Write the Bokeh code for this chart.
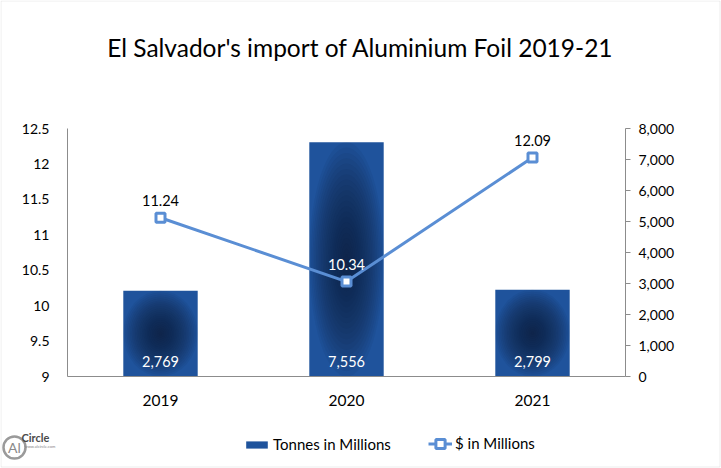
from bokeh.plotting import figure
from bokeh.models import (Range1d, LinearAxis, FixedTicker, NumeralTickFormatter,
                          ColumnDataSource, LabelSet, Label, Legend, LegendItem,
                          BoxAnnotation)
from bokeh.core.properties import value
from bokeh.embed import file_html
from bokeh.resources import INLINE

# Data
years = ["2019", "2020", "2021"]
tonnes = [2769, 7556, 2799]
tonnes_labels = ["2,769", "7,556", "2,799"]
usd_millions = [11.24, 10.34, 12.09]
usd_labels = ["11.24", "10.34", "12.09"]
left_ticks = [9, 9.5, 10, 10.5, 11, 11.5, 12, 12.5]
left_tick_labels = ["9", "9.5", "10", "10.5", "11", "11.5", "12", "12.5"]
right_ticks = [0, 1000, 2000, 3000, 4000, 5000, 6000, 7000, 8000]

FONT = "Lato"
BAR_EDGE = "#1f539c"
BAR_CORE = "#0b1d3d"
LINE_BLUE = "#5a8ed4"
AXIS_GRAY = "#8c8c8c"

W, H = 721, 468
# plot area inside the canvas (pixels from the top-left corner)
AREA_L, AREA_R, AREA_T, AREA_B = 67, 625, 128, 376

xs = list(range(len(years)))
x_lo, x_hi = -0.5, len(years) - 0.5
px_per_x = (AREA_R - AREA_L) / (x_hi - x_lo)
y_lo, y_hi = left_ticks[0], left_ticks[-1]
t_lo, t_hi = right_ticks[0], right_ticks[-1]
px_per_y = (AREA_B - AREA_T) / (y_hi - y_lo)
px_per_t = (AREA_B - AREA_T) / (t_hi - t_lo)


def canvas_to_data(px, py):
    """Canvas pixel (from top-left) to the primary x/y data space."""
    return x_lo + (px - AREA_L) / px_per_x, y_lo + (AREA_B - py) / px_per_y


p = figure(width=W, height=H, output_backend="svg", toolbar_location=None,
           x_range=Range1d(x_lo - AREA_L / px_per_x, x_hi + (W - AREA_R) / px_per_x),
           y_range=Range1d(y_lo - (H - AREA_B) / px_per_y, y_hi + AREA_T / px_per_y),
           x_axis_location=None, y_axis_location=None,
           min_border=0, min_border_left=0, min_border_right=0,
           min_border_top=0, min_border_bottom=0)
p.extra_y_ranges = {"t": Range1d(t_lo - (H - AREA_B) / px_per_t,
                                 t_hi + AREA_T / px_per_t)}
p.title.visible = False
p.outline_line_color = None
p.xgrid.grid_line_color = None
p.ygrid.grid_line_color = None
p.background_fill_color = "white"
p.border_fill_color = "white"

# Left axis ($ in millions)
ya = LinearAxis(ticker=FixedTicker(ticks=left_ticks), fixed_location=x_lo,
                bounds=(y_lo, y_hi))
ya.major_label_overrides = {t: s for t, s in zip(left_ticks, left_tick_labels)}
ya.major_tick_line_color = None
ya.minor_tick_line_color = None
ya.axis_line_color = AXIS_GRAY
ya.major_label_text_font = FONT
ya.major_label_text_font_size = "14px"
ya.major_label_text_color = "black"
ya.major_label_standoff = 12
p.add_layout(ya, "left")

# Right axis (tonnes)
ra = LinearAxis(y_range_name="t", ticker=FixedTicker(ticks=right_ticks),
                formatter=NumeralTickFormatter(format="0,0"),
                fixed_location=x_hi, bounds=(t_lo, t_hi))
ra.major_tick_in = 0
ra.major_tick_out = 5
ra.major_tick_line_color = AXIS_GRAY
ra.minor_tick_line_color = None
ra.axis_line_color = AXIS_GRAY
ra.major_label_text_font = FONT
ra.major_label_text_font_size = "14px"
ra.major_label_text_color = "black"
ra.major_label_standoff = 8
p.add_layout(ra, "right")

# Bottom axis (years)
xa = LinearAxis(ticker=FixedTicker(ticks=xs), fixed_location=y_lo,
                bounds=(x_lo, x_hi))
xa.major_label_overrides = {i: y for i, y in zip(xs, years)}
xa.major_tick_line_color = None
xa.minor_tick_line_color = None
xa.axis_line_color = AXIS_GRAY
xa.major_label_text_font = FONT
xa.major_label_text_font_size = "15.5px"
xa.major_label_text_color = "black"
xa.major_label_standoff = 12
p.add_layout(xa, "below")

# Bars with a radial shading towards the centre
bars = p.vbar(x=xs, top=tonnes, bottom=0, width=0.4, y_range_name="t",
              fill_color=BAR_EDGE, line_color=None)
n_layers = 22
mid = [t / 2 for t in tonnes]
for i in range(n_layers):
    k = 1 - i / n_layers
    p.ellipse(x=xs, y=mid, width=0.4 * k, height=[t * k for t in tonnes],
              y_range_name="t", fill_color=BAR_CORE, fill_alpha=0.065,
              line_color=None)

# Line series
ln = p.line(xs, usd_millions, line_color=LINE_BLUE, line_width=3)
mk = p.scatter(xs, usd_millions, marker="square", size=9, fill_color="white",
               line_color=LINE_BLUE, line_width=3)

# Data labels
bar_src = ColumnDataSource(dict(x=xs, y=[0] * len(xs), text=tonnes_labels))
p.add_layout(LabelSet(x="x", y="y", text="text", source=bar_src, y_range_name="t",
                      text_align="center", text_baseline="middle", y_offset=15,
                      text_color="white", text_font=value(FONT),
                      text_font_size="14.5px"))
line_src = ColumnDataSource(dict(x=xs, y=usd_millions, text=usd_labels,
                                 color=["black", "white", "black"]))
p.add_layout(LabelSet(x="x", y="y", text="text", source=line_src,
                      text_align="center", text_baseline="middle", y_offset=17,
                      text_color="color", text_font=value(FONT),
                      text_font_size="14.5px"))

# Title
p.add_layout(Label(x=360, y=H - 47, x_units="screen", y_units="screen",
                   text="El Salvador's import of Aluminium Foil 2019-21",
                   text_align="center", text_baseline="middle",
                   text_font=FONT, text_font_size="24.5px", text_color="black"))

# Legend under the plot area: one entry per series
legend_style = dict(orientation="horizontal", label_standoff=3, padding=0, margin=0,
                    border_line_color=None, background_fill_alpha=0,
                    label_text_font=FONT, label_text_font_size="15px",
                    label_text_color="black")
p.add_layout(Legend(items=[LegendItem(label="Tonnes in Millions", renderers=[bars])],
                    location=(243, H - 453), glyph_width=27, glyph_height=9,
                    **legend_style), "center")
p.add_layout(Legend(items=[LegendItem(label="$ in Millions", renderers=[ln, mk])],
                    location=(428, H - 454.5), glyph_width=24, glyph_height=23,
                    **legend_style), "center")

# Logo
logo_x, logo_y = canvas_to_data(14, 447)
p.scatter([logo_x], [logo_y], marker="circle", size=22, fill_color="white",
          line_color="#9a9a9a", line_width=2.5)
p.add_layout(Label(x=14, y=H - 447, x_units="screen", y_units="screen", text="Al",
                   text_align="center", text_baseline="middle",
                   text_font=FONT, text_font_size="14px", text_color="#8a8a8a"))
p.add_layout(Label(x=21, y=H - 437, x_units="screen", y_units="screen", text="Circle",
                   text_baseline="middle", text_font=FONT, text_font_size="11px",
                   text_font_style="bold", text_color="#4a4a4a"))
p.add_layout(Label(x=24, y=H - 446, x_units="screen", y_units="screen",
                   text="www.alcircle.com", text_baseline="middle", text_font=FONT,
                   text_font_size="4px", text_color="#888888"))

# Frame around the whole chart
p.add_layout(BoxAnnotation(left=0.5, right=W - 1.5, bottom=1.5, top=H - 0.5,
                           left_units="screen", right_units="screen",
                           bottom_units="screen", top_units="screen",
                           fill_alpha=0, line_color="#bfbfbf", line_width=1))

open("out.html", "w").write(file_html(p, INLINE))
